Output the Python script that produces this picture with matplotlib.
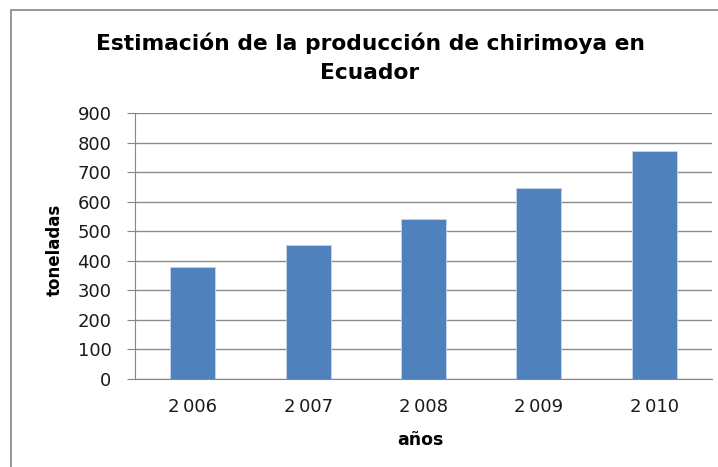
import matplotlib.pyplot as plt
from matplotlib.patches import Rectangle

years = ["2\u2009006", "2\u2009007", "2\u2009008", "2\u2009009", "2\u2009010"]
toneladas = [378, 452, 540, 645, 770]

W, H = 718, 467
plt.rcParams['font.family'] = ['DejaVu Sans']

fig = plt.figure(figsize=(W / 100, H / 100), dpi=100)
ax = fig.add_axes([135 / W, 1 - 379 / H, (712 - 135) / W, (379 - 113) / H])

# chart border (cut off at right and bottom like the original)
fig.patches.append(Rectangle((11 / W, -0.1), 1.1, 1 - 10 / H + 0.1,
                             transform=fig.transFigure, fill=False,
                             edgecolor='#868686', linewidth=1.2))

x = range(len(years))
ax.bar(x, toneladas, width=0.39, color='#4f81bd', edgecolor='#c6d4e8', linewidth=0.6, zorder=3)

ax.set_xlim(-0.5, len(years) - 0.5)
ax.set_ylim(0, 900)
ax.set_yticks(range(0, 901, 100))
ax.set_xticks(list(x))
ax.set_xticklabels(years)
ax.tick_params(axis='y', labelsize=13, length=6, color='#868686', pad=11, labelcolor='#1a1a1a')
ax.tick_params(axis='x', labelsize=13, length=0, pad=14, labelcolor='#1a1a1a')
ax.yaxis.grid(True, color='#8c8c8c', linewidth=1)
ax.set_axisbelow(True)
for s in ['top', 'right']:
    ax.spines[s].set_visible(False)
ax.spines['left'].set_color('#868686')
ax.spines['bottom'].set_color('#868686')

ax.set_xlabel("años", fontsize=12.5, fontweight='bold')
ax.xaxis.set_label_coords((420 - 135) / 577, -(440 - 379) / 266)
ax.xaxis.label.set_va('center')
ax.set_ylabel("toneladas", fontsize=12, fontweight='bold')
ax.yaxis.set_label_coords((55 - 135) / 577, (379 - 250) / 266)
ax.yaxis.label.set_va('center')

fig.text(370 / W, 1 - 43 / H, "Estimación de la producción de chirimoya en",
         ha='center', va='center', fontsize=15.7, fontweight='bold')
fig.text(370 / W, 1 - 73 / H, "Ecuador",
         ha='center', va='center', fontsize=15.7, fontweight='bold')

fig.savefig("out.png", dpi=100)
